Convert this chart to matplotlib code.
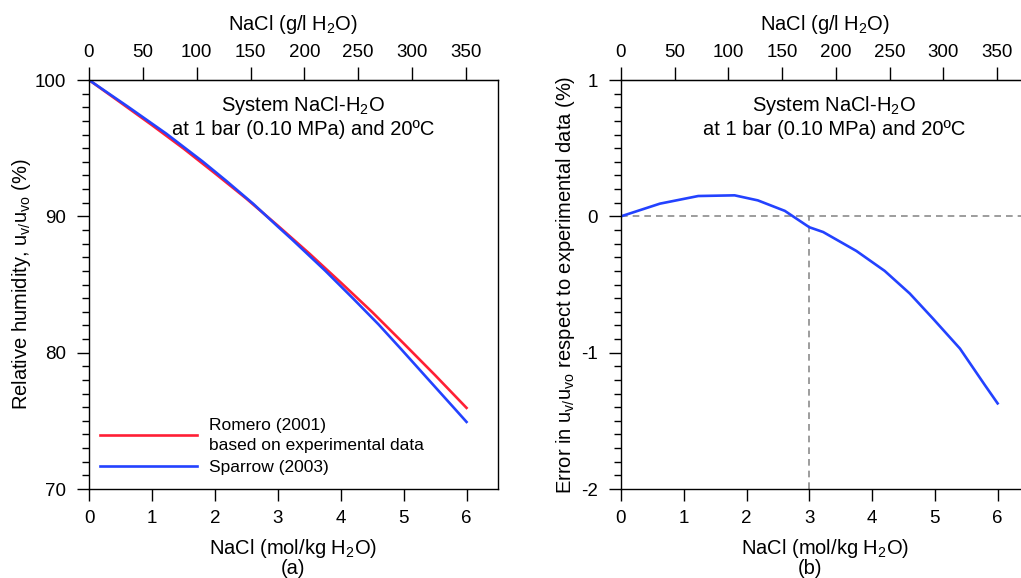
import matplotlib
matplotlib.use("Agg")
import matplotlib.pyplot as plt
from matplotlib.ticker import MultipleLocator

plt.rcParams['font.family'] = ['Liberation Sans', 'DejaVu Sans']
plt.rcParams['mathtext.fontset'] = 'custom'
plt.rcParams['mathtext.rm'] = 'Liberation Sans'
plt.rcParams['mathtext.it'] = 'Liberation Sans'
plt.rcParams['mathtext.default'] = 'regular'

# data
romero_m = [0, 0.5, 1, 1.5, 2, 2.5, 3, 3.5, 4, 4.5, 5, 5.5, 6]
romero_rh = [100, 98.35, 96.69, 94.98, 93.16, 91.30, 89.32, 87.28, 85.15, 82.98, 80.68, 78.35, 75.95]

sparrow_m = [0, 0.62, 1.23, 1.81, 2.18, 2.61, 3.0, 3.22, 3.75, 4.2, 4.6, 4.97, 5.4, 5.8, 6.0]
sparrow_rh = [100, 98.04, 96.06, 94.01, 92.61, 90.92, 89.25, 88.33, 86.03, 83.96, 82.08, 80.21, 78.0, 75.95, 74.92]
sparrow_err = [0, 0.093, 0.149, 0.154, 0.117, 0.04, -0.08, -0.115, -0.254, -0.40, -0.566, -0.75, -0.97, -1.24, -1.372]

molar_mass = 58.44
g_ticks = [0, 50, 100, 150, 200, 250, 300, 350]

RED = '#ff1f35'
BLUE = '#2342ff'
W, H = 1021, 578

fig = plt.figure(figsize=(W / 100, H / 100), dpi=100)
ax1 = fig.add_axes([89 / W, (H - 489) / H, 409 / W, 409 / H])
ax2 = fig.add_axes([621 / W, (H - 489) / H, 408 / W, 409 / H])

fs = 13.5
fl = 14.5
for ax in (ax1, ax2):
    ax.set_xlim(0, 6.5)
    ax.xaxis.set_major_locator(MultipleLocator(1))
    ax.tick_params(axis='both', which='major', direction='out', length=8.6, width=1.0,
                   labelsize=fs, pad=6.5)
    ax.tick_params(axis='y', which='minor', direction='out', length=5, width=1.0)
    ax.tick_params(axis='y', which='major', pad=8)
    for s in ax.spines.values():
        s.set_linewidth(1.0)
    ax.set_xlabel('NaCl (mol/kg H$_2$O)', fontsize=fl, labelpad=7)
    sec = ax.secondary_xaxis('top', functions=(lambda m: m * molar_mass, lambda g: g / molar_mass))
    sec.set_xticks(g_ticks)
    sec.tick_params(direction='out', length=9.5, width=1.0, labelsize=fs, pad=4)
    sec.set_xlabel('NaCl (g/l H$_2$O)', fontsize=fl, labelpad=10)
    ax.text(3.4, 0.965, 'System NaCl-H$_2$O\nat 1 bar (0.10 MPa) and 20ºC',
            transform=ax.get_xaxis_transform(), ha='center', va='top', fontsize=fl,
            linespacing=1.2)

# panel (a)
ax1.plot(romero_m, romero_rh, color=RED, lw=1.9, label='Romero (2001)\nbased on experimental data')
ax1.plot(sparrow_m, sparrow_rh, color=BLUE, lw=1.9, label='Sparrow (2003)')
ax1.set_ylim(70, 100)
ax1.yaxis.set_major_locator(MultipleLocator(10))
ax1.yaxis.set_minor_locator(MultipleLocator(1))
ax1.set_ylabel('Relative humidity, u$_{v/}$u$_{vo}$ (%)', fontsize=fl, labelpad=1)
leg = ax1.legend(loc='lower left', frameon=False, fontsize=12.5, handlelength=5.6,
                 handletextpad=0.7, labelspacing=0.4, bbox_to_anchor=(-0.012, -0.003))
for t in leg.get_texts():
    t.set_linespacing(1.4)

# panel (b)
ax2.axhline(0, color='#8c8c8c', lw=1.2, ls=(0, (4, 3)), zorder=1)
ax2.plot([3, 3], [-2, 0], color='#8c8c8c', lw=1.2, ls=(0, (4, 3)), zorder=1)
ax2.plot(sparrow_m, sparrow_err, color=BLUE, lw=1.9, zorder=2)
ax2.set_ylim(-2, 1)
ax2.yaxis.set_major_locator(MultipleLocator(1))
ax2.yaxis.set_minor_locator(MultipleLocator(0.1))
ax2.yaxis.set_major_formatter(plt.FuncFormatter(lambda v, p: '%d' % round(v)))
ax2.set_ylabel('Error in u$_{v/}$u$_{vo}$ respect to experimental data (%)', fontsize=fl, labelpad=3)

fig.text(293 / W, 1 - 568 / H, '(a)', ha='center', va='center', fontsize=fl)
fig.text(810 / W, 1 - 568 / H, '(b)', ha='center', va='center', fontsize=fl)

fig.savefig('out.png', dpi=100)
